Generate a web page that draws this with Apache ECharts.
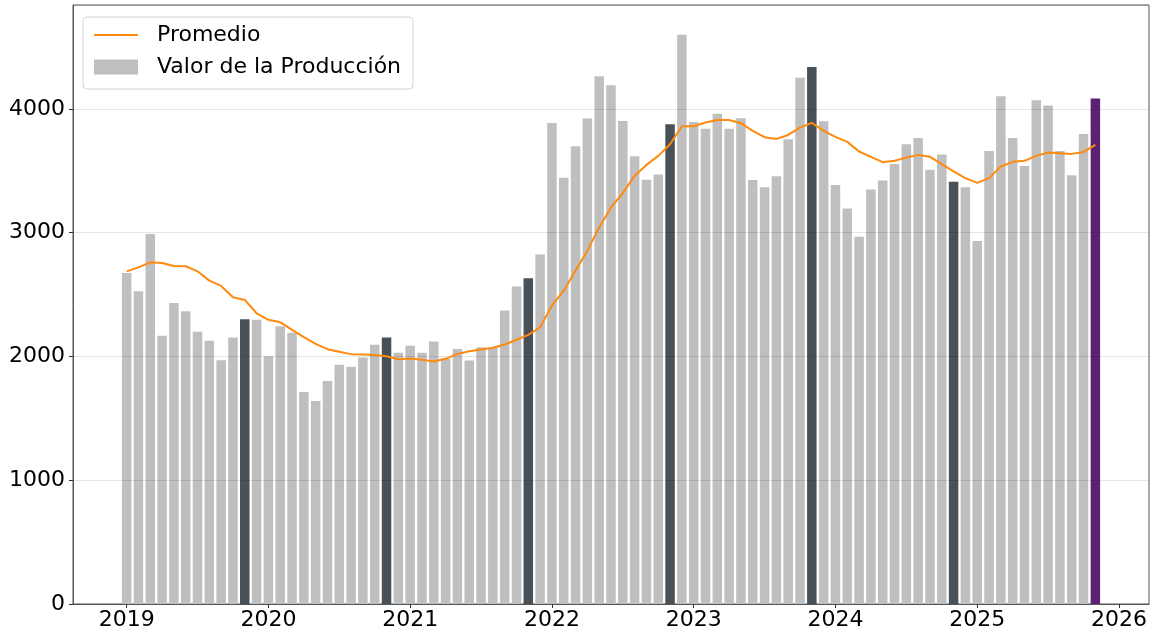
<!DOCTYPE html>
<html>
<head>
<meta charset="utf-8">
<script src="https://cdn.jsdelivr.net/npm/echarts@6/dist/echarts.min.js"></script>
<style>
  html, body { margin: 0; padding: 0; background: #fff; }
  #chart { width: 1153px; height: 631px; }
</style>
</head>
<body>
<div id="chart"></div>
<script>
// meses desde ene-2019 (0 = 2019-01)
const valorProduccion = [
  2675, 2527, 2990, 2167, 2433, 2366, 2199, 2127, 1970, 2153, 2301, 2296,
  2002, 2245, 2191, 1712, 1640, 1801, 1933, 1917, 1992, 2094, 2153, 2030,
  2086, 2030, 2121, 1981, 2060, 1968, 2075, 2075, 2371, 2565, 2632, 2825,
  3887, 3444, 3699, 3922, 4264, 4191, 3903, 3618, 3427, 3470, 3876, 4599,
  3895, 3841, 3962, 3841, 3925, 3425, 3368, 3457, 3756, 4252, 4339, 3901,
  3385, 3196, 2968, 3349, 3422, 3556, 3715, 3766, 3508, 3632, 3411, 3368,
  2933, 3661, 4102, 3766, 3540, 4070, 4027, 3661, 3465, 3798, 4085
];
const promedio = [
  2688, 2720, 2761, 2756, 2731, 2729, 2688, 2613, 2570, 2478, 2457, 2349,
  2296, 2277, 2215, 2156, 2102, 2059, 2038, 2019, 2016, 2011, 2002, 1978,
  1984, 1973, 1960, 1981, 2021, 2043, 2056, 2070, 2097, 2135, 2175, 2236,
  2411, 2532, 2694, 2855, 3043, 3204, 3320, 3460, 3548, 3621, 3715, 3860,
  3860, 3890, 3911, 3911, 3885, 3823, 3772, 3758, 3790, 3849, 3887, 3823,
  3774, 3734, 3656, 3613, 3570, 3581, 3607, 3629, 3613, 3554, 3495, 3441,
  3403, 3441, 3535, 3573, 3581, 3621, 3648, 3643, 3637, 3653, 3710
];
// noviembres resaltados y último mes
const mesesOscuros = [10, 22, 34, 46, 58, 70];
const mesActual = [82];
const yearLabels = ['2019', '2020', '2021', '2022', '2023', '2024', '2025', '2026'];
const yearTicks = [0, 12, 24, 36, 48, 60, 72, 84];

const font = 'DejaVu Sans';

const barData = valorProduccion.map((v, i) => {
  const item = { value: [i, v] };
  if (mesesOscuros.includes(i)) item.itemStyle = { color: '#485157' };
  if (mesActual.includes(i)) item.itemStyle = { color: '#5d2173' };
  return item;
});
const lineData = promedio.map((v, i) => [i, v]);

const chart = echarts.init(document.getElementById('chart'));
chart.setOption({
  animation: false,
  backgroundColor: '#fff',
  textStyle: { fontFamily: font },
  grid: {
    left: 73, right: 4, top: 5, bottom: 27,
    show: true, borderColor: '#555', borderWidth: 1
  },
  legend: {
    orient: 'vertical',
    left: 83, top: 17,
    padding: [7, 12, 11, 10],
    itemWidth: 44, itemHeight: 15, itemGap: 10,
    backgroundColor: 'rgba(255,255,255,0.8)',
    borderColor: '#d4d4d4', borderWidth: 1, borderRadius: 4,
    textStyle: { fontFamily: font, fontSize: 22, color: '#000', lineHeight: 22, padding: [0, 0, 0, 14] },
    data: [
      { name: 'Promedio', itemStyle: { opacity: 0 } },
      { name: 'Valor de la Producción', icon: 'rect' }
    ]
  },
  xAxis: {
    type: 'value',
    min: -4.54, max: 86.54,
    z: 3,
    axisLine: { show: true, lineStyle: { color: '#555', width: 1 } },
    axisTick: { show: true, length: 4, customValues: yearTicks, lineStyle: { color: '#333' } },
    axisLabel: {
      customValues: yearTicks,
      margin: 5,
      fontFamily: font, fontSize: 22, color: '#000',
      formatter: (v) => yearLabels[yearTicks.indexOf(Math.round(v))] || ''
    },
    splitLine: { show: false }
  },
  yAxis: {
    type: 'value',
    min: 0, max: 4840, interval: 1000,
    z: 3,
    axisLine: { show: true, onZero: false, lineStyle: { color: '#555', width: 1 } },
    axisTick: { show: true, length: 4, lineStyle: { color: '#333' } },
    axisLabel: {
      margin: 8, fontFamily: font, fontSize: 22, color: '#000',
      showMaxLabel: false,
      formatter: (v) => String(v)
    },
    splitLine: { show: true, lineStyle: { color: 'rgba(0,0,0,0.1)', width: 1 } }
  },
  series: [
    {
      name: 'Valor de la Producción',
      type: 'bar',
      barWidth: 9.5,
      z: 2,
      itemStyle: { color: '#bfbfbf' },
      data: barData
    },
    {
      name: 'Promedio',
      type: 'line',
      symbol: 'none',
      z: 5,
      lineStyle: { color: '#ff8a0d', width: 2 },
      itemStyle: { color: '#ff8a0d' },
      data: lineData
    }
  ]
});
</script>
</body>
</html>
